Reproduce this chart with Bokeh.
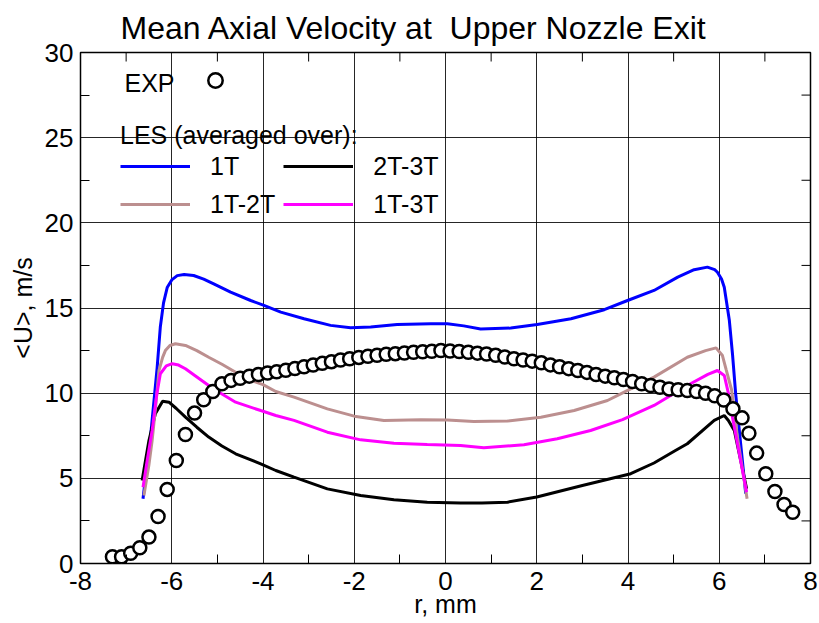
import math
from bokeh.plotting import figure
from bokeh.models import Range1d, FixedTicker, Legend, LegendItem, Label
from bokeh.embed import file_html
from bokeh.resources import INLINE

# ---------------- data ----------------
exp_r = [-7.3, -7.1, -6.9, -6.7, -6.5, -6.3, -6.1, -5.9, -5.7, -5.5, -5.3, -5.1, -4.9, -4.7, -4.5,
         -4.3, -4.1, -3.9, -3.7, -3.5, -3.3, -3.1, -2.9, -2.7, -2.5, -2.3, -2.1, -1.9, -1.7, -1.5,
         -1.3, -1.1, -0.9, -0.7, -0.5, -0.3, -0.1, 0.1, 0.3, 0.5, 0.7, 0.9, 1.1, 1.3, 1.5,
         1.7, 1.9, 2.1, 2.3, 2.5, 2.7, 2.9, 3.1, 3.3, 3.5, 3.7, 3.9, 4.1, 4.3, 4.5,
         4.7, 4.9, 5.1, 5.3, 5.5, 5.7, 5.9, 6.1, 6.3, 6.5, 6.65, 6.82, 7.02, 7.22, 7.42, 7.61]
exp_u = [0.4, 0.4, 0.6, 0.92, 1.55, 2.76, 4.35, 6.05, 7.57, 8.83, 9.61, 10.1, 10.55, 10.75, 10.88,
         11.0, 11.1, 11.18, 11.26, 11.35, 11.45, 11.55, 11.65, 11.75, 11.85, 11.95, 12.02, 12.1, 12.17, 12.23,
         12.28, 12.32, 12.36, 12.4, 12.43, 12.46, 12.5, 12.48, 12.45, 12.4, 12.35, 12.3, 12.22, 12.12, 12.02,
         11.95, 11.88, 11.78, 11.66, 11.55, 11.44, 11.33, 11.22, 11.1, 11.0, 10.9, 10.8, 10.68, 10.55, 10.45,
         10.35, 10.25, 10.2, 10.15, 10.1, 10.0, 9.85, 9.6, 9.08, 8.55, 7.65, 6.48, 5.27, 4.23, 3.46, 3.01]

r_1t = [-6.63, -6.46, -6.32, -6.25, -6.18, -6.1, -6.0, -5.88, -5.73, -5.52, -5.3, -5.08, -4.71, -4.27,
        -3.98, -3.61, -3.1, -2.52, -2.08, -1.64, -1.06, -0.32, 0.04, 0.4, 0.77, 1.43, 2.01, 2.75, 3.48,
        3.99, 4.57, 5.09, 5.45, 5.74, 5.9, 5.96, 6.05, 6.11, 6.22, 6.29, 6.36, 6.47, 6.58]
u_1t = [3.8, 7.6, 11.5, 13.9, 15.3, 16.2, 16.65, 16.9, 16.97, 16.91, 16.7, 16.42, 15.93, 15.44,
        15.15, 14.76, 14.37, 13.98, 13.84, 13.88, 14.03, 14.07, 14.07, 13.95, 13.77, 13.82, 14.03, 14.37, 14.9,
        15.44, 16.03, 16.81, 17.25, 17.4, 17.25, 17.1, 16.7, 16.22, 14.3, 12.3, 9.96, 7.0, 4.1]

r_1t2t = [-6.61, -6.5, -6.43, -6.35, -6.28, -6.2, -6.14, -6.04, -5.92, -5.7, -5.45, -5.19, -4.9, -4.6,
          -4.3, -4.0, -3.72, -3.32, -2.59, -2.0, -1.35, -0.54, 0.04, 0.62, 1.36, 2.09, 2.82, 3.55, 3.84,
          4.57, 5.3, 5.7, 5.93, 6.07, 6.15, 6.27, 6.4, 6.61]
u_1t2t = [3.99, 5.8, 7.22, 9.3, 11.33, 12.1, 12.5, 12.8, 12.9, 12.8, 12.5, 12.11, 11.7, 11.23,
          10.8, 10.5, 10.1, 9.77, 9.08, 8.65, 8.4, 8.44, 8.42, 8.34, 8.36, 8.59, 8.98, 9.57, 9.96,
          10.94, 12.11, 12.5, 12.66, 12.21, 11.4, 10.2, 7.4, 3.8]

r_1t3t = [-6.63, -6.53, -6.43, -6.33, -6.25, -6.12, -5.99, -5.85, -5.7, -5.45, -5.19, -4.9, -4.6, -4.05,
          -3.72, -3.32, -2.59, -1.86, -1.13, -0.4, 0.33, 0.84, 1.72, 2.45, 3.18, 3.88, 4.57, 5.3, 5.75,
          5.96, 6.11, 6.2, 6.29, 6.45, 6.6]
u_1t3t = [4.48, 6.2, 7.81, 9.9, 11.14, 11.6, 11.73, 11.65, 11.43, 10.95, 10.45, 9.95, 9.47, 8.98,
          8.69, 8.4, 7.71, 7.26, 7.06, 6.99, 6.93, 6.79, 6.97, 7.32, 7.81, 8.45, 9.28, 10.45, 11.1,
          11.33, 11.04, 10.0, 8.59, 6.3, 4.19]

r_2t3t = [-6.65, -6.5, -6.36, -6.2, -6.06, -5.9, -5.7, -5.45, -5.19, -4.9, -4.6, -4.05, -3.72, -3.32,
          -2.59, -1.86, -1.13, -0.4, 0.33, 0.8, 1.36, 2.0, 3.0, 4.06, 4.57, 5.04, 5.3, 5.89, 6.11,
          6.2, 6.33, 6.45, 6.6]
u_2t3t = [4.87, 7.22, 8.79, 9.53, 9.47, 9.1, 8.59, 8.0, 7.42, 6.9, 6.44, 5.85, 5.46, 5.07,
          4.38, 3.99, 3.74, 3.6, 3.55, 3.55, 3.6, 3.9, 4.58, 5.27, 5.9, 6.63, 7.03, 8.4, 8.69,
          8.4, 7.81, 6.3, 4.39]

x_ticks = [-8, -6, -4, -2, 0, 2, 4, 6, 8]
x_minor = [-7, -5, -3, -1, 1, 3, 5, 7]
y_ticks = [0, 5, 10, 15, 20, 25, 30]
y_minor = [2.5, 7.5, 12.5, 17.5, 22.5, 27.5]

title_text = "Mean Axial Velocity at\u00a0 Upper Nozzle Exit"
series_labels = ["1T", "2T-3T", "1T-2T", "1T-3T"]

# ---------------- figure ----------------
FONT = "Liberation Sans"
p = figure(width=819, height=623, output_backend="svg", toolbar_location=None,
           x_range=Range1d(-8, 8), y_range=Range1d(0, 30),
           min_border_left=80, min_border_right=9, min_border_top=52, min_border_bottom=60)
p.background_fill_color = "white"
p.border_fill_color = "white"
p.outline_line_color = "black"
p.outline_line_width = 1.5

p.title.text = title_text
p.title.text_font = FONT
p.title.text_font_size = "32px"
p.title.text_font_style = "normal"
p.title.text_color = "black"
p.title.align = "left"
p.title.offset = 40
p.title.standoff = 10
p.title.vertical_align = "top"

xt = FixedTicker(ticks=x_ticks, minor_ticks=x_minor)
yt = FixedTicker(ticks=y_ticks, minor_ticks=y_minor)

def style_axis(ax, ticker, ticks):
    ax.ticker = ticker
    ax.axis_line_color = None
    ax.major_tick_in = 0
    ax.major_tick_out = 0
    ax.minor_tick_in = 9
    ax.minor_tick_out = 0
    ax.minor_tick_line_color = "black"
    ax.minor_tick_line_width = 1
    ax.major_label_text_font = FONT
    ax.major_label_text_font_size = "26px"
    ax.major_label_text_color = "black"
    ax.major_label_overrides = {t: str(t) for t in ticks}
    ax.axis_label_text_font = FONT
    ax.axis_label_text_font_size = "25px"
    ax.axis_label_text_font_style = "normal"
    ax.axis_label_text_color = "black"

style_axis(p.xaxis[0], xt, x_ticks)
style_axis(p.yaxis[0], yt, y_ticks)
p.xaxis[0].axis_label = "r, mm"
p.yaxis[0].axis_label = "<U>, m/s"
p.xaxis[0].major_label_standoff = 8
p.xaxis[0].axis_label_standoff = -3
p.yaxis[0].major_label_standoff = 7
p.yaxis[0].axis_label_standoff = 5

# minor ticks on the top and right edges of the frame
p.ray(x=x_minor, y=[y_ticks[-1]] * len(x_minor), length=9, length_units="screen",
      angle=-math.pi / 2, line_color="black", line_width=1)
p.ray(x=[x_ticks[-1]] * len(y_minor), y=y_minor, length=9, length_units="screen",
      angle=math.pi, line_color="black", line_width=1)

p.xgrid.ticker = FixedTicker(ticks=x_ticks)
p.ygrid.ticker = FixedTicker(ticks=y_ticks)
for g in (p.xgrid[0], p.ygrid[0]):
    g.grid_line_color = "black"
    g.grid_line_width = 1
    g.grid_line_alpha = 0.85

# ---------------- data marks ----------------
r_blue = p.line(r_1t, u_1t, line_color="#0000ff", line_width=3)
r_black = p.line(r_2t3t, u_2t3t, line_color="black", line_width=3)
r_brown = p.line(r_1t2t, u_1t2t, line_color="#bc8f8f", line_width=3)
r_mag = p.line(r_1t3t, u_1t3t, line_color="#ff00ff", line_width=3)
r_exp = p.scatter(exp_r, exp_u, marker="circle", size=13, line_color="black",
                  line_width=2.5, fill_color="white")

# ---------------- legends ----------------
exp_lbl = Label(x=44, y=481, x_units="screen", y_units="screen", text="EXP",
                text_font=FONT, text_font_size="25px", text_baseline="middle",
                text_align="left", text_color="black")
p.add_layout(exp_lbl)

leg_exp = Legend(items=[LegendItem(label=" ", renderers=[r_exp])], location=(117, 465),
                 padding=0, margin=0, glyph_width=36, glyph_height=36, label_standoff=0,
                 label_text_font_size="4px", background_fill_alpha=0, border_line_alpha=0)
p.add_layout(leg_exp)

leg = Legend(items=[LegendItem(label=series_labels[0], renderers=[r_blue]),
                    LegendItem(label=series_labels[1], renderers=[r_black]),
                    LegendItem(label=series_labels[2], renderers=[r_brown]),
                    LegendItem(label=series_labels[3], renderers=[r_mag])],
             ncols=2, orientation="horizontal",
             location=(40, 344), padding=0, margin=0, spacing=8,
             glyph_width=70, glyph_height=30, label_standoff=20,
             label_text_font=FONT, label_text_font_size="25px", label_text_color="black",
             title="LES (averaged over):", title_text_font=FONT, title_text_font_size="25px",
             title_text_font_style="normal", title_text_color="black", title_standoff=1,
             background_fill_alpha=0, border_line_alpha=0)
p.add_layout(leg)

open("out.html", "w").write(file_html(p, INLINE))
